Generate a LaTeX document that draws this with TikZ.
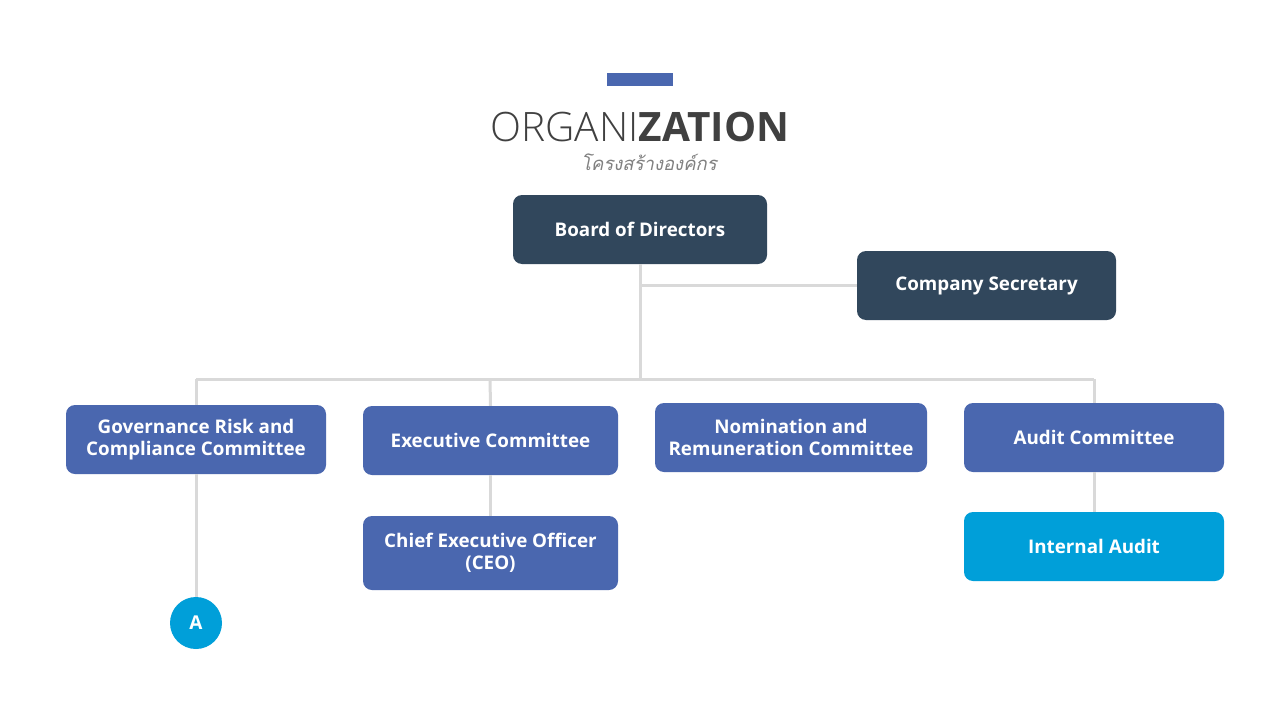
\documentclass[tikz,border=0pt]{standalone}
\usepackage{fontspec}
\setmainfont{Open Sans}
\newfontfamily\oslight{Open Sans}[UprightFont={* Light}]
\newfontfamily\thaifont[Script=Thai]{Loma}
\definecolor{dark}{HTML}{31475C}
\definecolor{blu}{HTML}{4A67AF}
\definecolor{cyan2}{HTML}{009FD9}
\definecolor{linegray}{HTML}{D9D9D9}
\definecolor{titlegray}{HTML}{404040}
\definecolor{thaigray}{HTML}{808080}
\begin{document}
\begin{tikzpicture}[x=1pt,y=-1pt,
  box/.style={rectangle, rounded corners=9pt, inner sep=0pt, align=center, text=white,
    font=\bfseries\fontsize{18.8}{22}\selectfont},
  darkbox/.style={box, fill=dark},
  bluebox/.style={box, fill=blu},
  cyanbox/.style={box, fill=cyan2},
  conn/.style={draw=linegray, line width=3pt}]
\useasboundingbox (0,0) rectangle (1280,720);
\fill[white] (0,0) rectangle (1280,720);
\fill[blu] (607,73) rectangle (673,86);
\node[anchor=base, inner sep=0pt, text=titlegray, font=\fontsize{40.5}{44}\selectfont] (title) at (640,141) {{\oslight ORGANI}{\bfseries ZATION}};
\node[anchor=base, inner sep=0pt, text=thaigray, font=\thaifont\itshape\fontsize{18.5}{22}\selectfont] (sub) at (649,170) {โครงสร้างองค์กร};
\node[darkbox, minimum width=254pt, minimum height=69pt] (bod) at (640,229.5) {Board of Directors};
\node[darkbox, minimum width=259pt, minimum height=69pt] (sec) at (986.5,285.5) {Company Secretary};
\node[bluebox, minimum width=260pt, minimum height=69pt] (gov) at (196,439.5) {Governance Risk and\\Compliance Committee};
\node[bluebox, minimum width=255pt, minimum height=69pt] (exe) at (490.5,440.5) {Executive Committee};
\node[bluebox, minimum width=272pt, minimum height=69pt] (nom) at (791,437.5) {Nomination and\\Remuneration Committee};
\node[bluebox, minimum width=260pt, minimum height=69pt] (aud) at (1094,437.5) {Audit Committee};
\node[bluebox, minimum width=255pt, minimum height=74pt] (ceo) at (490.5,553) {Chief Executive Officer\\(CEO)};
\node[cyanbox, minimum width=260pt, minimum height=69pt] (ia) at (1094,546.5) {Internal Audit};
\node[circle, fill=cyan2, minimum size=52pt, inner sep=0pt, text=white, font=\bfseries\fontsize{19}{22}\selectfont] (a) at (196,623) {A};
\coordinate (cs) at (bod.south |- sec.west);
\coordinate (busM) at (640,379);
\coordinate (busL) at (196,379);
\coordinate (busE) at (490,379);
\coordinate (busR) at (1094,379);
\draw[conn] (bod.south) -- (busM);
\draw[conn] (cs) -- (sec.west);
\draw[conn] (busL) -- (busR);
\draw[conn] (busL) -- (gov.north);
\draw[conn] (busE) -- (exe.north);
\draw[conn] (busR) -- (aud.north);
\draw[conn] (gov.south) -- (a.north);
\draw[conn] (exe.south) -- (ceo.north);
\draw[conn] (aud.south) -- (ia.north);
\end{tikzpicture}
\end{document}
